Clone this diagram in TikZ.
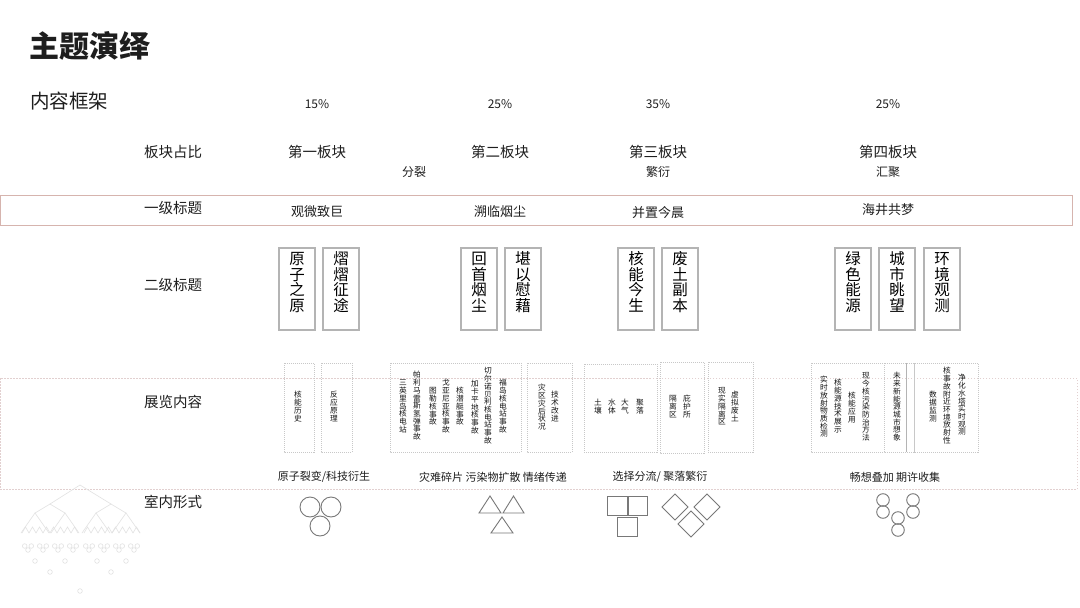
\documentclass[tikz,border=0pt]{standalone}
\usepackage{fontspec}
\setmainfont{Noto Sans CJK SC}
\newcommand\fsz[1]{\fontsize{#1}{#1}\selectfont}
\newdimen\vtgap \vtgap=0pt
\makeatletter
\newcommand\vt[1]{\vbox{\offinterlineskip\vt@a#1\vt@end\unkern}}
\def\vt@end{\vt@end}
\def\vt@a#1{\ifx#1\vt@end\else\hbox to 1em{\hss\vrule height .88em depth .12em width 0pt\relax#1\hss}\kern\vtgap\expandafter\vt@a\fi}
\makeatother
\definecolor{pinkline}{RGB}{214,180,174}
\definecolor{dashpink}{RGB}{226,208,208}
\definecolor{boxgray}{RGB}{180,180,180}
\definecolor{dotgray}{RGB}{200,200,200}
\definecolor{shapegray}{RGB}{120,120,120}
\definecolor{decor}{RGB}{226,226,226}
\definecolor{txt}{RGB}{30,30,30}
\begin{document}
\begin{tikzpicture}[x=1pt,y=-1pt,
  every node/.style={inner sep=0pt, text=txt},
  rowlbl/.style={font=\fsz{14.5}},
  blocklbl/.style={font=\fsz{14.5}},
  pct/.style={font=\fsz{12}},
  sub/.style={font=\fsz{12}},
  l1/.style={font=\fsz{13}},
  l2box/.style={draw=boxgray, line width=1.2pt, minimum width=36pt, minimum height=82pt},
  l2txt/.style={anchor=north, font=\fsz{15.5}, text=black},
  cbox/.style={draw=dotgray, line width=0.6pt, dash pattern=on 1pt off 1pt},
  ctxt/.style={anchor=north, font=\fsz{7.7}, text=black!92},
  form/.style={font=\fsz{11}},
  shp/.style={draw=shapegray, line width=0.9pt},
  deco/.style={draw=decor, line width=0.6pt}]
\useasboundingbox (0,0) rectangle (1080,608);
\fill[white] (0,0) rectangle (1080,608);

% headings
\node[anchor=west, font=\fsz{30}\bfseries] (title) at (29,45.5) {主题演绎};
\node[anchor=west, font=\fsz{19.5}] (frame) at (30,101) {内容框架};

% row frames
\draw[pinkline, line width=0.9pt] (0,195) rectangle (1072,225);
\draw[dashpink, line width=0.7pt, dash pattern=on 1.5pt off 1.5pt] (0,378) rectangle (1077,489);

% row labels
\node[rowlbl] (r1) at (173,152) {板块占比};
\node[rowlbl] (r2) at (173,208) {一级标题};
\node[rowlbl] (r3) at (173,285) {二级标题};
\node[rowlbl] (r4) at (173,402) {展览内容};
\node[rowlbl] (r5) at (173,502) {室内形式};

% percentages
\node[pct] (p1) at (317,104) {15\%};
\node[pct] (p2) at (500,104) {25\%};
\node[pct] (p3) at (658,104) {35\%};
\node[pct] (p4) at (888,104) {25\%};

% blocks
\node[blocklbl] (k1) at (317,152) {第一板块};
\node[blocklbl] (k2) at (500,152) {第二板块};
\node[blocklbl] (k3) at (658,152) {第三板块};
\node[blocklbl] (k4) at (888,152) {第四板块};
\node[sub] (s1) at (414,172) {分裂};
\node[sub] (s2) at (658,172) {繁衍};
\node[sub] (s3) at (888,172) {汇聚};

% first-level titles
\node[l1] (t1) at (317,212) {观微致巨};
\node[l1] (t2) at (500,212) {溯临烟尘};
\node[l1] (t3) at (658,213) {并置今晨};
\node[l1] (t4) at (888,210) {海井共梦};

% second-level boxes
\node[l2box] (b1) at (297,289) {};
\node[l2box] (b2) at (341,289) {};
\node[l2box] (b3) at (479,289) {};
\node[l2box] (b4) at (523,289) {};
\node[l2box] (b5) at (636,289) {};
\node[l2box] (b6) at (680,289) {};
\node[l2box] (b7) at (853,289) {};
\node[l2box] (b8) at (897,289) {};
\node[l2box] (b9) at (942,289) {};
\node[l2txt] (b1t) at (297,251) {\vt{原子之原}};
\node[l2txt] (b2t) at (341,251) {\vt{熠熠征途}};
\node[l2txt] (b3t) at (479,251) {\vt{回首烟尘}};
\node[l2txt] (b4t) at (523,251) {\vt{堪以慰藉}};
\node[l2txt] (b5t) at (636,251) {\vt{核能今生}};
\node[l2txt] (b6t) at (680,251) {\vt{废土副本}};
\node[l2txt] (b7t) at (853,251) {\vt{绿色能源}};
\node[l2txt] (b8t) at (897,251) {\vt{城市眺望}};
\node[l2txt] (b9t) at (942,251) {\vt{环境观测}};

% content boxes
\draw[cbox] (284,363) rectangle (314,452);
\draw[cbox] (321,363) rectangle (352,452);
\draw[cbox] (390,363) rectangle (521,452);
\draw[cbox] (527,363) rectangle (572,452);
\draw[cbox] (584,364) rectangle (657,452);
\draw[cbox] (660,362) rectangle (704,453);
\draw[cbox] (708,362) rectangle (753,452);
\draw[cbox] (811,363) rectangle (884,452);
\draw[cbox] (884,363) rectangle (914,452);
\draw[boxgray, line width=0.6pt] (906,363) -- (906,452);
\draw[cbox] (914,363) rectangle (978,452);

% content texts
\node[ctxt] (cA) at (298,391) {\vt{核能历史}};
\node[ctxt] (cB) at (334,391) {\vt{反应原理}};
\node[ctxt] (cC1) at (403,379) {\vt{三英里岛核电站}};
\node[ctxt] (cC2) at (417,371) {\vt{帕利马雷斯氢弹事故}};
\node[ctxt] (cC3) at (433,387) {\vt{图勒核事故}};
\node[ctxt] (cC4) at (446,379) {\vt{戈亚尼亚核事故}};
\node[ctxt] (cC5) at (460,387) {\vt{核潜艇事故}};
\node[ctxt] (cC6) at (475,380) {\vt{加卡平地核事故}};
\node[ctxt] (cC7) at (488,367) {\vt{切尔诺贝利核电站事故}};
\node[ctxt] (cC8) at (503,379) {\vt{福岛核电站事故}};
\node[ctxt] (cD1) at (542,384) {\vt{灾区灾后状况}};
\node[ctxt] (cD2) at (555,391) {\vt{技术改进}};
\node[ctxt] (cE1) at (598,399) {\vt{土壤}};
\node[ctxt] (cE2) at (612,399) {\vt{水体}};
\node[ctxt] (cE3) at (625,399) {\vt{大气}};
\node[ctxt] (cE4) at (640,399) {\vt{聚落}};
\node[ctxt] (cF1) at (673,395) {\vt{隔离区}};
\node[ctxt] (cF2) at (687,395) {\vt{庇护所}};
\node[ctxt] (cG1) at (722,387) {\vt{现实隔离区}};
\node[ctxt] (cG2) at (735,391) {\vt{虚拟废土}};
\node[ctxt] (cH1) at (824,376) {\vt{实时放射物质检测}};
\node[ctxt] (cH2) at (838,379) {\vt{核能源技术展示}};
\node[ctxt] (cH3) at (852,392) {\vt{核能应用}};
\node[ctxt] (cH4) at (866,372) {\vt{现今核污染防治方法}};
\node[ctxt] (cI1) at (897,372) {\vt{未来新能源城市想象}};
\node[ctxt] (cJ1) at (933,391) {\vt{数据监测}};
\node[ctxt] (cJ2) at (947,367) {\vt{核事故附近环境放射性}};
\node[ctxt] (cJ3) at (962,374) {\vt{净化水塔实时观测}};

% form labels
\node[form] (f1) at (324,477) {原子裂变/科技衍生};
\node[form] (f2) at (493,477) {灾难碎片 污染物扩散 情绪传递};
\node[form] (f3) at (660,477) {选择分流/ 聚落繁衍};
\node[form] (f4) at (895,477) {畅想叠加 期许收集};

% shapes: circles
\draw[shp] (310,507) circle (10pt);
\draw[shp] (331,507) circle (10pt);
\draw[shp] (320,526) circle (10pt);
% triangles
\draw[shp] (479,513) -- (490,496) -- (501,513) -- cycle;
\draw[shp] (503,513) -- (513.5,496) -- (524,513) -- cycle;
\draw[shp] (491,533) -- (502,517) -- (513,533) -- cycle;
% squares
\draw[shp] (607,496) rectangle (627,515);
\draw[shp] (628,496) rectangle (647,515);
\draw[shp] (617,517) rectangle (637,536);
% diamonds
\draw[shp] (662,507) -- (675,494) -- (688,507) -- (675,520) -- cycle;
\draw[shp] (694,507) -- (707,494) -- (720,507) -- (707,520) -- cycle;
\draw[shp] (678,524) -- (691,511) -- (704,524) -- (691,537) -- cycle;
% small circles
\foreach \cx/\cy in {883/500,883/512,913/500,913/512,898/518,898/530}
  \draw[shp] (\cx,\cy) circle (6.3pt);

% decorative tree
\draw[deco] (50,504) -- (80,485) -- (111,504);
\draw[deco] (35,513) -- (50,504) -- (65,513);
\draw[deco] (96,513) -- (111,504) -- (126,513);
\foreach \x in {35,65,96,126}
  \draw[deco] (\x-14,533) -- (\x,513) -- (\x+14,533);
\foreach \i in {0,...,7} {
  \draw[deco] (22+7*\i,533) -- (25.5+7*\i,527) -- (29+7*\i,533);
  \draw[deco] (84+7*\i,533) -- (87.5+7*\i,527) -- (91+7*\i,533);
}
\foreach \cx in {28,43,58,73,89,104,119,134} {
  \draw[deco] (\cx-3.3,546) circle (2.3pt);
  \draw[deco] (\cx+3.3,546) circle (2.3pt);
  \draw[deco] (\cx,550) circle (2.3pt);
}
\foreach \cx in {35,65,97,126}
  \draw[deco] (\cx,561) circle (2.3pt);
\draw[deco] (50,572) circle (2.3pt);
\draw[deco] (111,572) circle (2.3pt);
\draw[deco] (80,591) circle (2.3pt);
\end{tikzpicture}
\end{document}
